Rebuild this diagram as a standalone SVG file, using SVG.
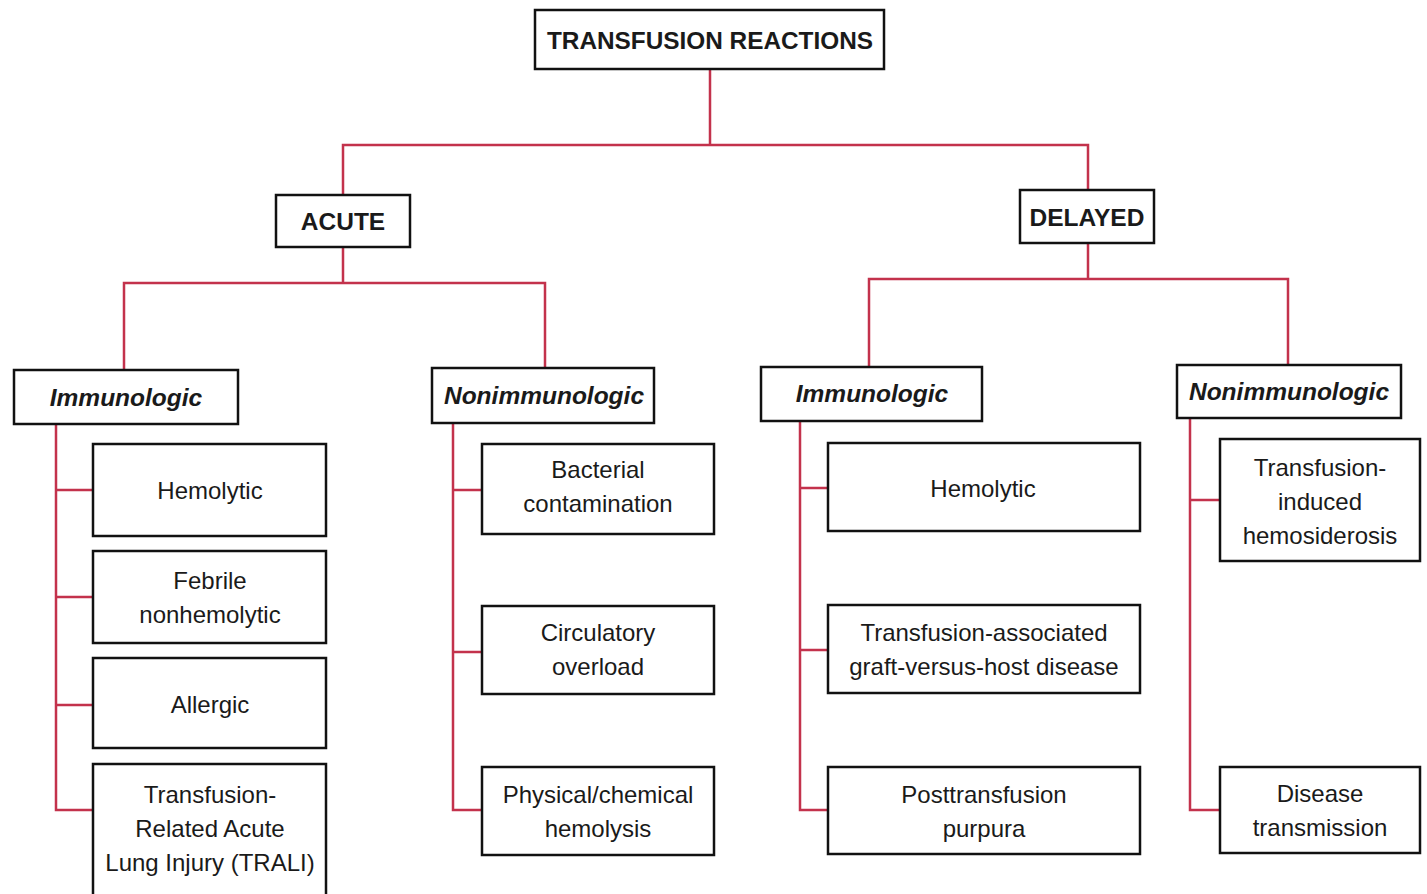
<svg xmlns="http://www.w3.org/2000/svg" width="1427" height="894" viewBox="0 0 1427 894">
<style>
.box{fill:#fff;stroke:#111;stroke-width:2.5}
.c{fill:none;stroke:#c3324c;stroke-width:2.5}
text{font-family:"Liberation Sans",Arial,sans-serif;fill:#1a1a1a;text-anchor:middle}
.t{font-size:24px}
.h{font-size:24.5px;font-weight:bold}
.i{font-size:24.5px;font-weight:bold;font-style:italic}
</style>
<rect width="1427" height="894" fill="#fff"/>
<g id="connectors">
<path class="c" d="M710,69V145M343,195V145H1088V190"/>
<path class="c" d="M343,247V283M124,370V283H545V368"/>
<path class="c" d="M1088,243V279M869,367V279H1288V365"/>
<path class="c" d="M56,424V810H93M56,490H93M56,597H93M56,705H93"/>
<path class="c" d="M453,423V810H482M453,490H482M453,652H482"/>
<path class="c" d="M800,421V810H828M800,488H828M800,650H828"/>
<path class="c" d="M1190,418V810H1220M1190,500H1220"/>
</g>
<g id="root"><rect class="box" x="535" y="10" width="349" height="59"/><text class="h" x="710" y="49" textLength="326" lengthAdjust="spacingAndGlyphs">TRANSFUSION REACTIONS</text></g>
<g id="acute"><rect class="box" x="276" y="195" width="134" height="52"/><text class="h" x="343" y="230">ACUTE</text></g>
<g id="delayed"><rect class="box" x="1020" y="190" width="134" height="53"/><text class="h" x="1087" y="226">DELAYED</text></g>
<g id="acute-immuno"><rect class="box" x="14" y="370" width="224" height="54"/><text class="i" x="126" y="406">Immunologic</text></g>
<g id="acute-nonimmuno"><rect class="box" x="432" y="368" width="222" height="55"/><text class="i" x="544" y="404">Nonimmunologic</text></g>
<g id="delayed-immuno"><rect class="box" x="761" y="367" width="221" height="54"/><text class="i" x="872" y="402">Immunologic</text></g>
<g id="delayed-nonimmuno"><rect class="box" x="1177" y="365" width="224" height="53"/><text class="i" x="1289" y="400">Nonimmunologic</text></g>
<g id="a-hemolytic"><rect class="box" x="93" y="444" width="233" height="92"/><text class="t" x="210" y="499">Hemolytic</text></g>
<g id="a-febrile"><rect class="box" x="93" y="551" width="233" height="92"/><text class="t" x="210" y="589">Febrile</text><text class="t" x="210" y="623">nonhemolytic</text></g>
<g id="a-allergic"><rect class="box" x="93" y="658" width="233" height="90"/><text class="t" x="210" y="713">Allergic</text></g>
<g id="a-trali"><rect class="box" x="93" y="764" width="233" height="132"/><text class="t" x="210" y="803">Transfusion-</text><text class="t" x="210" y="837">Related Acute</text><text class="t" x="210" y="871">Lung Injury (TRALI)</text></g>
<g id="a-bacterial"><rect class="box" x="482" y="444" width="232" height="90"/><text class="t" x="598" y="478">Bacterial</text><text class="t" x="598" y="512">contamination</text></g>
<g id="a-circulatory"><rect class="box" x="482" y="606" width="232" height="88"/><text class="t" x="598" y="641">Circulatory</text><text class="t" x="598" y="675">overload</text></g>
<g id="a-physical"><rect class="box" x="482" y="767" width="232" height="88"/><text class="t" x="598" y="803">Physical/chemical</text><text class="t" x="598" y="837">hemolysis</text></g>
<g id="d-hemolytic"><rect class="box" x="828" y="443" width="312" height="88"/><text class="t" x="983" y="497">Hemolytic</text></g>
<g id="d-gvhd"><rect class="box" x="828" y="605" width="312" height="88"/><text class="t" x="984" y="641">Transfusion-associated</text><text class="t" x="984" y="675">graft-versus-host disease</text></g>
<g id="d-ptp"><rect class="box" x="828" y="767" width="312" height="87"/><text class="t" x="984" y="803">Posttransfusion</text><text class="t" x="984" y="837">purpura</text></g>
<g id="d-hemosiderosis"><rect class="box" x="1220" y="439" width="200" height="122"/><text class="t" x="1320" y="476">Transfusion-</text><text class="t" x="1320" y="510">induced</text><text class="t" x="1320" y="544">hemosiderosis</text></g>
<g id="d-disease"><rect class="box" x="1220" y="767" width="200" height="86"/><text class="t" x="1320" y="802">Disease</text><text class="t" x="1320" y="836">transmission</text></g>
</svg>
